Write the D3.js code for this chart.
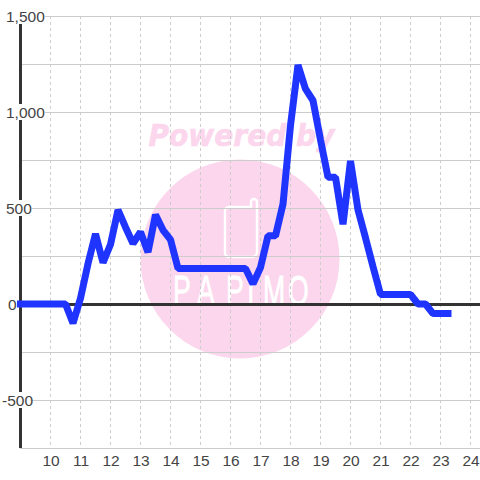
<!DOCTYPE html>
<html><head><meta charset="utf-8">
<script src="https://cdn.jsdelivr.net/npm/d3@7"></script>
<style>html,body{margin:0;padding:0;background:#fff}svg{display:block}text{font-family:"Liberation Sans",Arial,sans-serif}</style>
</head><body><div id="c"></div>
<script>
const times=[9,9.25,9.5,9.75,10,10.25,10.5,10.75,11,11.25,11.5,11.75,12,12.25,12.5,12.75,13,13.25,13.5,13.75,14,14.25,14.5,14.75,15,15.25,15.5,15.75,16,16.25,16.5,16.75,17,17.25,17.5,17.75,18,18.25,18.5,18.75,19,19.25,19.5,19.75,20,20.25,20.5,20.75,21,21.25,21.5,21.75,22,22.25,22.5,22.75,23,23.25];
const values=[0,0,0,0,0,0,0,-100,30,210,365,215,310,490,400,315,375,270,465,385,335,185,185,185,185,185,185,185,185,185,185,105,190,355,355,520,930,1245,1120,1060,855,660,660,415,745,490,345,195,50,50,50,50,50,0,0,-50,-50,-50];
const xTicks=[10,11,12,13,14,15,16,17,18,19,20,21,22,23,24];
const yLabels=[1500,1000,500,0,-500];
const yGrid=[1500,1250,1000,750,500,250,-250,-500,-750];
const wmTitle="Powered by", wmBrand="PAPIMO";
const wmBrandStarts=[173,197,226,247,263,288];

const W=480,H=480;
const x=d3.scaleLinear().domain([9,24.3333]).range([20.5,480.5]);
const y=d3.scaleLinear().domain([1500,-750]).range([16,448]);
const svg=d3.select("#c").append("svg").attr("width",W).attr("height",H);

// watermark
const wm=svg.append("g");
wm.append("text").attr("x",241.5).attr("y",146).attr("text-anchor","middle").attr("font-size",31).attr("font-weight","bold").attr("font-style","italic").attr("fill","#fbd6ec").attr("stroke","#fbd6ec").attr("stroke-width",0.6).style("font-family","'DejaVu Sans'").attr("textLength",186).attr("lengthAdjust","spacingAndGlyphs").text(wmTitle);
wm.append("circle").attr("cx",240).attr("cy",259).attr("r",99.5).attr("fill","#fbd6ec");
wm.append("path").attr("d","M228 207H251V202a3 3 0 0 1 6 0V252a5 5 0 0 1-5 5H229a4 4 0 0 1-4-4V211a4 4 0 0 1 4-4Z").attr("fill","none").attr("stroke","#fff").attr("stroke-width",2.5);
const sx=0.62;
wm.append("text").attr("transform",`scale(${sx},1)`).attr("x",wmBrandStarts.map(v=>(v/sx).toFixed(1)).join(" ")).attr("y",305.5).attr("font-size",43).attr("fill","#fff").attr("stroke","#fff").attr("stroke-width",0.8).text(wmBrand);

// grid
const g=svg.append("g");
g.selectAll("line.h").data(yGrid).join("line").attr("class","h").attr("x1",20).attr("x2",480).attr("y1",d=>y(d)+.5).attr("y2",d=>y(d)+.5).attr("stroke","#cccccc").attr("stroke-width",1);
g.selectAll("line.v").data(xTicks).join("line").attr("class","v").attr("x1",d=>Math.floor(x(d))+.5).attr("x2",d=>Math.floor(x(d))+.5).attr("y1",16).attr("y2",448).attr("stroke","#cccccc").attr("stroke-dasharray","3,3");

// axes
svg.append("line").attr("x1",20.5).attr("x2",20.5).attr("y1",16).attr("y2",448).attr("stroke","#333").attr("stroke-width",3);
svg.append("line").attr("x1",20).attr("x2",480).attr("y1",y(0)+.5).attr("y2",y(0)+.5).attr("stroke","#333").attr("stroke-width",3);

// y labels
const fmt=d3.format(",");
const lx=d=>d==-500?2:(d==0?8:6);
const lw=d=>d==0?9:(d==500?26:(d==-500?29:39));
const yl=svg.append("g").selectAll("g").data(yLabels).join("g");
yl.append("rect").attr("x",lx).attr("y",d=>y(d)-8).attr("width",lw).attr("height",16).attr("fill","#fff");
yl.append("text").attr("x",lx).attr("y",d=>y(d)+6).attr("font-size",15.5).attr("fill","#444").text(d=>d==-500?"-500":fmt(d));

// x labels
svg.append("g").selectAll("text").data(xTicks).join("text").attr("x",d=>x(d)+.5).attr("y",466).attr("text-anchor","middle").attr("font-size",15.5).attr("fill","#444").text(d=>d);

// series
const line=d3.line().x((d,i)=>x(times[i])).y(d=>y(d));
svg.append("path").datum(values).attr("d",line).attr("fill","none").attr("stroke","#1f35ff").attr("stroke-width",7).attr("stroke-linejoin","bevel").attr("stroke-linecap","square");
</script></body></html>
